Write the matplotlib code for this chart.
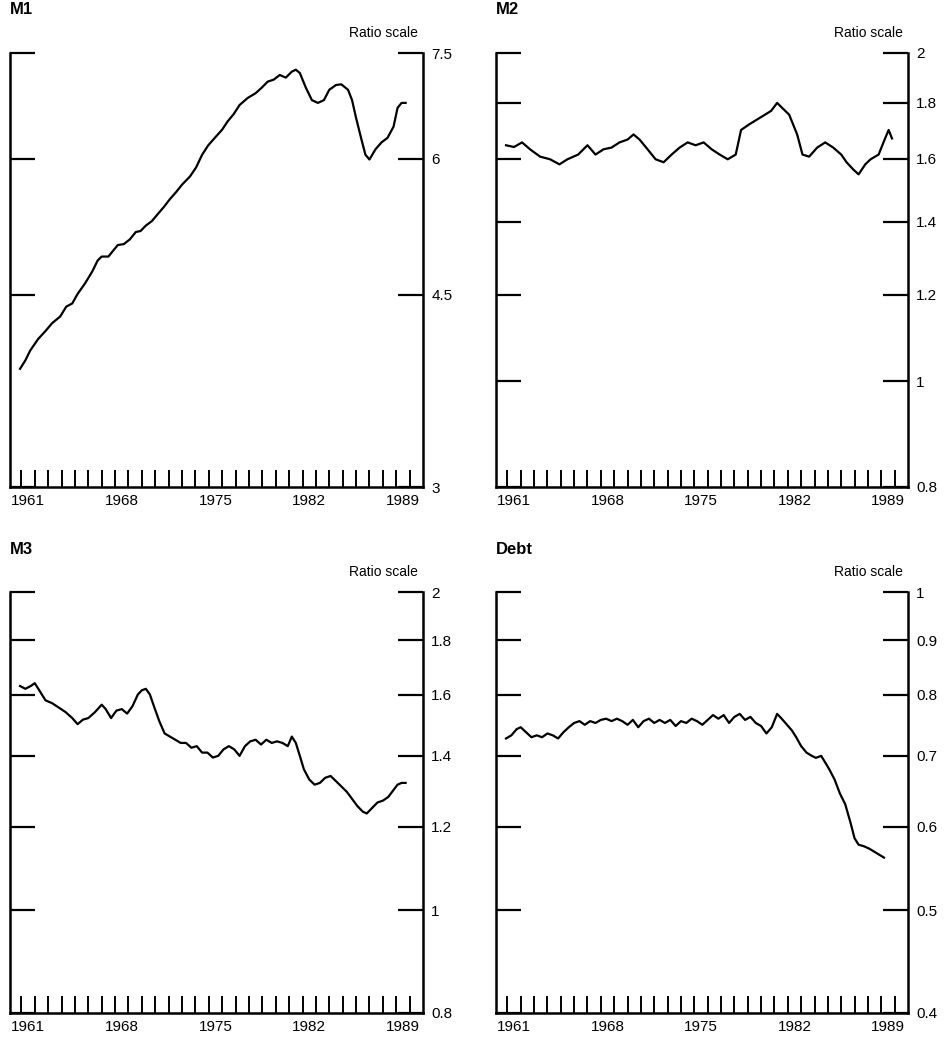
import matplotlib
matplotlib.use("Agg")
import matplotlib.pyplot as plt
from matplotlib.ticker import NullLocator, NullFormatter

plt.rcParams["font.family"] = ["Liberation Sans", "DejaVu Sans"]

# ----------
# Data (ratio scale)
# ----------
label_years = [1961, 1968, 1975, 1982, 1989]
tick_years = list(range(1961, 1991))

m1_years = [1960.9, 1961.3, 1961.65, 1962.25, 1962.8, 1963.3, 1963.9, 1964.35, 1964.8, 1965.2,
            1965.75, 1966.3, 1966.7, 1967.0, 1967.5, 1967.85, 1968.2, 1968.65, 1969.1, 1969.55,
            1969.9, 1970.3, 1970.75, 1971.2, 1971.65, 1972.1, 1972.55, 1973.0, 1973.6, 1974.05,
            1974.5, 1974.95, 1975.45, 1976.0, 1976.4, 1976.85, 1977.3, 1977.9, 1978.5, 1978.95,
            1979.4, 1979.85, 1980.3, 1980.75, 1981.2, 1981.5, 1981.8, 1982.25, 1982.7, 1983.15,
            1983.6, 1984.0, 1984.5, 1984.9, 1985.4, 1985.7, 1986.0, 1986.4, 1986.7, 1987.0,
            1987.45, 1987.9, 1988.35, 1988.8, 1989.1, 1989.4, 1989.7]
m1_vals = [3.85, 3.92, 4.00, 4.10, 4.17, 4.24, 4.30, 4.39, 4.42, 4.51,
           4.61, 4.73, 4.84, 4.88, 4.88, 4.94, 5.00, 5.01, 5.06, 5.14,
           5.15, 5.21, 5.26, 5.34, 5.42, 5.51, 5.59, 5.68, 5.78, 5.89,
           6.05, 6.17, 6.27, 6.38, 6.49, 6.59, 6.72, 6.82, 6.89, 6.97,
           7.06, 7.09, 7.16, 7.12, 7.21, 7.24, 7.19, 6.97, 6.79, 6.75,
           6.79, 6.94, 7.01, 7.02, 6.94, 6.79, 6.54, 6.25, 6.05, 5.99,
           6.12, 6.21, 6.27, 6.42, 6.68, 6.75, 6.75]

m2_years = [1960.9, 1961.5, 1962.1, 1962.7, 1963.45, 1964.2, 1964.9, 1965.5, 1966.3, 1967.0,
            1967.6, 1968.2, 1968.8, 1969.4, 1970.0, 1970.45, 1970.9, 1971.5, 1972.1, 1972.7,
            1973.3, 1973.9, 1974.5, 1975.1, 1975.7, 1976.3, 1976.9, 1977.5, 1978.1, 1978.5,
            1979.1, 1979.7, 1980.3, 1980.75, 1981.2, 1981.6, 1982.1, 1982.7, 1983.1, 1983.6,
            1984.2, 1984.8, 1985.4, 1986.0, 1986.4, 1986.9, 1987.3, 1987.8, 1988.2, 1988.8,
            1989.25, 1989.55, 1989.8]
m2_vals = [1.646, 1.64, 1.656, 1.632, 1.607, 1.598, 1.581, 1.598, 1.614, 1.646,
           1.614, 1.632, 1.638, 1.656, 1.666, 1.684, 1.666, 1.632, 1.598, 1.588,
           1.614, 1.638, 1.656, 1.646, 1.656, 1.632, 1.614, 1.598, 1.614, 1.70,
           1.72, 1.738, 1.756, 1.77, 1.80, 1.78, 1.756, 1.684, 1.614, 1.607,
           1.638, 1.656, 1.638, 1.614, 1.588, 1.564, 1.548, 1.581, 1.598, 1.614,
           1.666, 1.70, 1.67]

m3_years = [1960.9, 1961.3, 1961.7, 1962.0, 1962.4, 1962.8, 1963.3, 1963.8, 1964.3, 1964.8,
            1965.2, 1965.6, 1966.0, 1966.5, 1967.0, 1967.3, 1967.7, 1968.1, 1968.5, 1968.9,
            1969.3, 1969.7, 1970.0, 1970.3, 1970.6, 1970.9, 1971.3, 1971.7, 1972.1, 1972.5,
            1972.9, 1973.3, 1973.7, 1974.1, 1974.5, 1974.9, 1975.3, 1975.7, 1976.1, 1976.5,
            1976.9, 1977.3, 1977.7, 1978.1, 1978.5, 1978.9, 1979.3, 1979.7, 1980.1, 1980.5,
            1980.9, 1981.2, 1981.5, 1981.8, 1982.1, 1982.5, 1982.9, 1983.3, 1983.7, 1984.1,
            1984.5, 1984.9, 1985.3, 1985.7, 1986.1, 1986.5, 1986.8, 1987.2, 1987.6, 1988.0,
            1988.4, 1988.8, 1989.1, 1989.4, 1989.7]
m3_vals = [1.63, 1.62, 1.63, 1.64, 1.61, 1.58, 1.57, 1.555, 1.54, 1.52,
           1.50, 1.515, 1.52, 1.54, 1.565, 1.55, 1.52, 1.545, 1.55, 1.535,
           1.56, 1.60, 1.615, 1.62, 1.60, 1.56, 1.51, 1.47, 1.46, 1.45,
           1.44, 1.44, 1.425, 1.43, 1.41, 1.41, 1.395, 1.40, 1.42, 1.43,
           1.42, 1.40, 1.43, 1.445, 1.45, 1.435, 1.45, 1.44, 1.445, 1.44,
           1.43, 1.46, 1.44, 1.40, 1.36, 1.33, 1.315, 1.32, 1.335, 1.34,
           1.325, 1.31, 1.295, 1.275, 1.255, 1.24, 1.235, 1.25, 1.265, 1.27,
           1.28, 1.30, 1.315, 1.32, 1.32]

debt_years = [1960.9, 1961.3, 1961.7, 1962.0, 1962.4, 1962.8, 1963.2, 1963.6, 1964.0, 1964.4,
              1964.8, 1965.2, 1965.6, 1966.0, 1966.4, 1966.8, 1967.2, 1967.6, 1968.0, 1968.4,
              1968.8, 1969.2, 1969.6, 1970.0, 1970.4, 1970.8, 1971.2, 1971.6, 1972.0, 1972.4,
              1972.8, 1973.2, 1973.6, 1974.0, 1974.4, 1974.8, 1975.2, 1975.6, 1976.0, 1976.4,
              1976.8, 1977.2, 1977.6, 1978.0, 1978.4, 1978.8, 1979.2, 1979.6, 1980.0, 1980.4,
              1980.8, 1981.2, 1981.5, 1981.9, 1982.3, 1982.6, 1983.0, 1983.4, 1983.8, 1984.1,
              1984.5, 1984.8, 1985.1, 1985.5, 1985.9, 1986.3, 1986.7, 1987.0, 1987.3, 1987.7,
              1988.1, 1988.5, 1988.9, 1989.2]
debt_vals = [0.727, 0.732, 0.742, 0.745, 0.737, 0.729, 0.732, 0.729, 0.735, 0.732,
             0.727, 0.737, 0.745, 0.752, 0.755, 0.749, 0.755, 0.752, 0.757, 0.759,
             0.755, 0.759, 0.755, 0.749, 0.757, 0.745, 0.755, 0.759, 0.752, 0.757,
             0.752, 0.757, 0.747, 0.755, 0.752, 0.759, 0.755, 0.749, 0.757, 0.765,
             0.759, 0.765, 0.752, 0.762, 0.767, 0.757, 0.762, 0.752, 0.747, 0.735,
             0.745, 0.767, 0.76, 0.75, 0.74, 0.73, 0.715, 0.705, 0.70, 0.697,
             0.70, 0.69, 0.68, 0.665, 0.645, 0.63, 0.605, 0.585, 0.577, 0.575,
             0.572, 0.568, 0.564, 0.561]

m1_ticks = [7.5, 6, 4.5, 3]
m2_ticks = [2, 1.8, 1.6, 1.4, 1.2, 1, 0.8]
m3_ticks = [2, 1.8, 1.6, 1.4, 1.2, 1, 0.8]
debt_ticks = [1, 0.9, 0.8, 0.7, 0.6, 0.5, 0.4]

# ----------
# Figure
# ----------
W, H = 948, 1050
fig = plt.figure(figsize=(W / 100, H / 100), dpi=100)


def panel(x0, x1, y0, y1, title, years, vals, ticks):
    # pixel box -> figure fraction
    ax = fig.add_axes([x0 / W, 1 - y1 / H, (x1 - x0) / W, (y1 - y0) / H])
    ax.plot(years, vals, color="black", lw=1.6, solid_joinstyle="round")
    ax.set_yscale("log")
    ax.set_ylim(ticks[-1], ticks[0])
    ax.set_xlim(1960.15, 1991.0)

    ax.set_yticks(ticks)
    ax.set_yticklabels([f"{t:g}" for t in ticks])
    ax.yaxis.set_minor_locator(NullLocator())
    ax.yaxis.set_minor_formatter(NullFormatter())
    ax.tick_params(axis="y", which="major", left=True, right=True,
                   labelleft=False, labelright=True, direction="in",
                   length=18, width=1.6, pad=6, labelsize=11)

    ax.set_xticks(tick_years)
    ax.set_xticklabels([])
    ax.set_xticks([y + 0.5 for y in label_years], minor=True)
    ax.set_xticklabels([str(y) for y in label_years], minor=True)
    ax.tick_params(axis="x", which="major", direction="in", length=12, width=1.4)
    ax.tick_params(axis="x", which="minor", length=0, pad=5, labelsize=11)

    ax.spines["top"].set_visible(False)
    for s in ["left", "right", "bottom"]:
        ax.spines[s].set_linewidth(1.8)

    fig.text(x0 / W, 1 - (y0 - 43) / H, title, fontsize=12, fontweight="bold",
             ha="left", va="center")
    fig.text((x1 - 5) / W, 1 - (y0 - 20) / H, "Ratio scale", fontsize=10,
             ha="right", va="center")
    return ax


panel(10, 423, 53, 487, "M1", m1_years, m1_vals, m1_ticks)
panel(496, 908, 53, 487, "M2", m2_years, m2_vals, m2_ticks)
panel(10, 423, 592, 1013, "M3", m3_years, m3_vals, m3_ticks)
panel(496, 908, 592, 1013, "Debt", debt_years, debt_vals, debt_ticks)

fig.savefig("out.png", dpi=100)
